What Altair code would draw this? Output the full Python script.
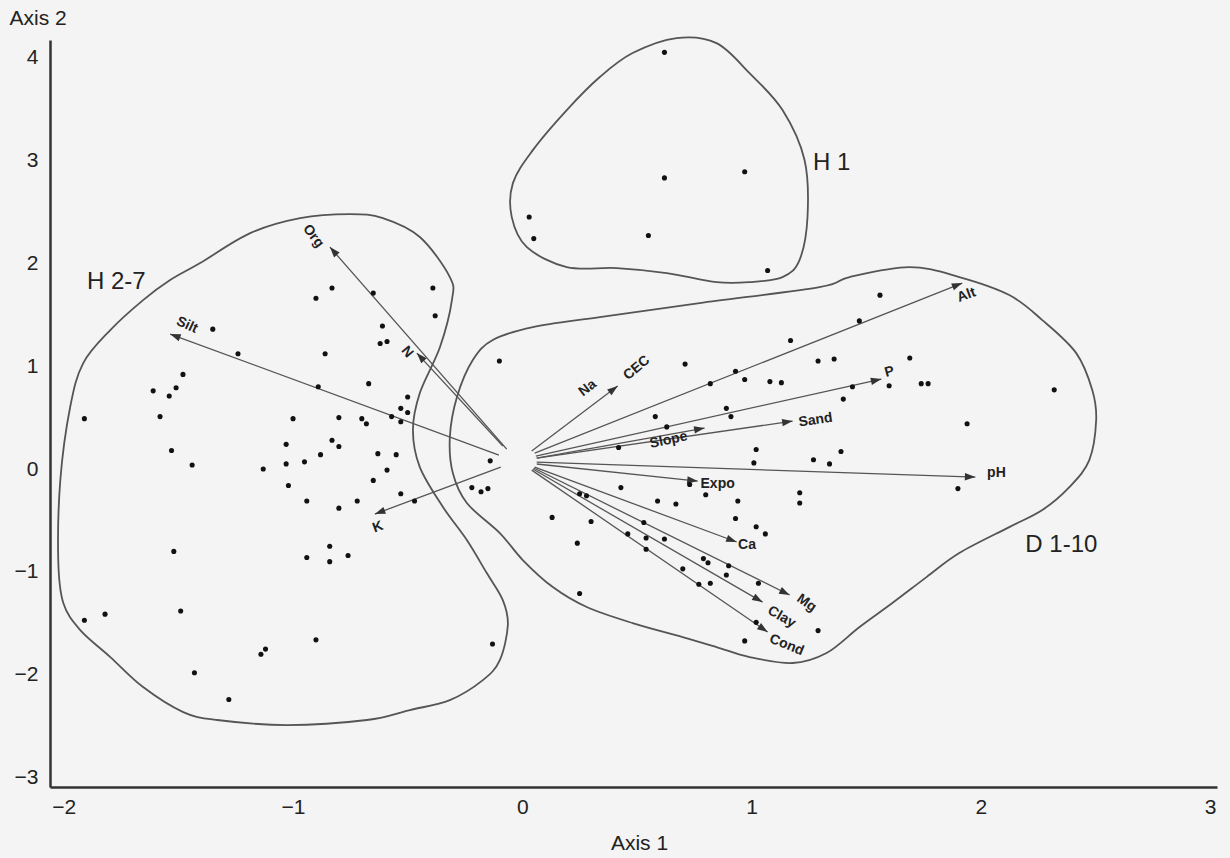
import altair as alt
import pandas as pd
import numpy as np

# ---------------- data ----------------
h27_pts = [
    (-0.83, 1.76), (-0.90, 1.66), (-0.65, 1.71), (-0.39, 1.76), (-0.38, 1.49), (-0.61, 1.39), (-0.62, 1.22),
    (-0.59, 1.24), (-1.35, 1.36), (-1.24, 1.12), (-0.86, 1.12), (-1.48, 0.92), (-1.61, 0.76), (-1.51, 0.79),
    (-1.54, 0.71), (-0.89, 0.80), (-0.67, 0.83), (-0.50, 0.70), (-0.53, 0.59), (-0.50, 0.55), (-0.57, 0.51),
    (-0.53, 0.46), (-1.91, 0.49), (-1.58, 0.51), (-1.00, 0.49), (-0.80, 0.50), (-0.70, 0.49), (-0.68, 0.44),
    (-1.03, 0.24), (-0.83, 0.28), (-0.80, 0.22), (-0.88, 0.14), (-0.63, 0.15), (-0.55, 0.14), (-1.53, 0.18),
    (-1.44, 0.04), (-1.13, 0.00), (-1.03, 0.05), (-0.95, 0.07), (-0.59, -0.01), (-0.65, -0.11), (-1.02, -0.16),
    (-0.94, -0.31), (-0.80, -0.38), (-0.72, -0.31), (-0.53, -0.24), (-0.47, -0.31), (-0.14, 0.08),
    (-0.22, -0.18), (-0.18, -0.22), (-0.15, -0.19), (-1.52, -0.80), (-0.84, -0.75), (-0.94, -0.86),
    (-0.84, -0.90), (-0.76, -0.84), (-1.91, -1.47), (-1.82, -1.41), (-1.49, -1.38), (-0.90, -1.66),
    (-1.14, -1.80), (-1.12, -1.75), (-1.43, -1.98), (-1.28, -2.24), (-0.13, -1.70),
]
h1_pts = [(0.62, 4.05), (0.97, 2.89), (0.62, 2.83), (0.03, 2.45), (0.05, 2.24), (0.55, 2.27), (1.07, 1.93)]
d_pts = [
    (-0.10, 1.05), (1.56, 1.69), (1.47, 1.44), (1.17, 1.25), (0.71, 1.02), (1.29, 1.05), (1.36, 1.07),
    (1.69, 1.08), (0.93, 0.95), (0.82, 0.83), (0.97, 0.87), (1.08, 0.85), (1.13, 0.84), (1.44, 0.80),
    (1.60, 0.81), (1.74, 0.83), (1.77, 0.83), (1.40, 0.68), (2.32, 0.77), (0.89, 0.59), (0.91, 0.51),
    (0.58, 0.51), (0.63, 0.41), (1.94, 0.44), (0.42, 0.21), (1.02, 0.19), (1.01, 0.06), (1.39, 0.17),
    (1.27, 0.09), (1.34, 0.05), (1.90, -0.19), (0.73, -0.15), (0.43, -0.18), (0.80, -0.25), (0.94, -0.31),
    (0.59, -0.31), (0.67, -0.34), (1.21, -0.23), (1.21, -0.33), (0.13, -0.47), (0.30, -0.51), (0.93, -0.48),
    (1.02, -0.56), (1.06, -0.63), (0.25, -0.24), (0.28, -0.26), (0.53, -0.52), (0.24, -0.72), (0.46, -0.63),
    (0.54, -0.67), (0.62, -0.68), (0.54, -0.78), (0.79, -0.87), (0.81, -0.91), (0.90, -0.94), (0.70, -0.97),
    (0.89, -1.03), (0.77, -1.12), (0.82, -1.11), (1.03, -1.11), (0.25, -1.21), (1.02, -1.49), (0.97, -1.67),
    (1.29, -1.57),
]

# environmental vectors: start and tip
arr_names = ["Na/CEC", "Alt", "P", "Sand", "Slope", "pH", "Expo", "Ca", "Mg", "Clay", "Cond", "Org", "N", "Silt", "K"]
arr_x0 = [0.041, 0.054, 0.059, 0.063, 0.063, 0.063, 0.063, 0.054, 0.050, 0.046, 0.041, -0.068, -0.085, -0.102, -0.094]
arr_y0 = [0.175, 0.155, 0.126, 0.107, 0.107, 0.068, 0.049, 0.019, 0.010, 0.000, -0.010, 0.194, 0.224, 0.136, 0.019]
arr_x1 = [0.416, 1.919, 1.566, 1.179, 0.795, 1.976, 0.765, 0.935, 1.166, 1.048, 1.070, -0.839, -0.460, -1.536, -0.643]
arr_y1 = [0.807, 1.808, 0.875, 0.466, 0.398, -0.078, -0.117, -0.709, -1.224, -1.293, -1.584, 2.157, 1.127, 1.312, -0.437]

# vector labels
lab_text = ["Na", "CEC", "Alt", "P", "Sand", "Slope", "pH", "Expo", "Ca", "Mg", "Clay", "Cond", "Org", "N", "Silt", "K"]
lab_x = [0.285, 0.499, 1.937, 1.601, 1.279, 0.638, 2.068, 0.852, 0.980, 1.240, 1.131, 1.153, -0.912, -0.503, -1.462, -0.630]
lab_y = [0.787, 0.982, 1.691, 0.943, 0.476, 0.282, -0.039, -0.146, -0.739, -1.302, -1.438, -1.710, 2.264, 1.137, 1.399, -0.564]
lab_angle = [322, 320, 340, 345, 352, 348, 0, 0, 0, 35, 30, 22, 52, 50, 25, 340]

# group outlines (closed smooth curves)
h27_outline = [
    (-0.752, 2.478), (-0.608, 2.439), (-0.447, 2.255), (-0.316, 1.866), (-0.307, 1.642), (-0.359, 1.186),
    (-0.447, 0.739), (-0.477, 0.379), (-0.447, 0.019), (-0.346, -0.369), (-0.242, -0.690), (-0.155, -1.011),
    (-0.085, -1.273), (-0.063, -1.516), (-0.098, -1.856), (-0.172, -2.051), (-0.316, -2.245), (-0.490, -2.342),
    (-0.678, -2.439), (-1.026, -2.488), (-1.331, -2.439), (-1.479, -2.362), (-1.654, -2.119), (-1.797, -1.827),
    (-1.928, -1.565), (-2.002, -1.302), (-2.024, -0.884), (-2.015, -0.107), (-1.972, 0.603), (-1.915, 1.030),
    (-1.797, 1.351), (-1.654, 1.642), (-1.536, 1.837), (-1.405, 2.002), (-1.187, 2.293), (-0.969, 2.439),
]
h1_outline = [
    (0.673, 4.189), (0.847, 4.140), (0.991, 3.848), (1.135, 3.489), (1.231, 3.003), (1.244, 2.449),
    (1.209, 2.031), (1.135, 1.866), (0.991, 1.817), (0.847, 1.817), (0.630, 1.905), (0.412, 1.953),
    (0.194, 1.963), (0.020, 2.157), (-0.046, 2.449), (-0.041, 2.779), (0.046, 3.100), (0.194, 3.489),
    (0.338, 3.810), (0.481, 4.043),
]
d_outline = [
    (0.046, 1.380), (0.338, 1.477), (0.773, 1.613), (1.296, 1.769), (1.427, 1.866), (1.688, 1.963),
    (1.906, 1.866), (2.124, 1.691), (2.268, 1.448), (2.416, 1.127), (2.486, 0.768), (2.503, 0.476),
    (2.473, 0.087), (2.386, -0.175), (2.268, -0.398), (2.124, -0.564), (1.906, -0.816), (1.763, -1.050),
    (1.614, -1.302), (1.471, -1.535), (1.327, -1.788), (1.179, -1.885), (0.991, -1.827), (0.847, -1.730),
    (0.699, -1.633), (0.481, -1.497), (0.281, -1.341), (0.133, -1.147), (0.002, -0.884), (-0.098, -0.622),
    (-0.242, -0.330), (-0.303, -0.039), (-0.316, 0.311), (-0.285, 0.700), (-0.216, 1.059), (-0.129, 1.254),
]

group_names = ["H 2-7", "H 1", "D 1-10"]
group_label_x = [-1.771, 1.349, 2.351]
group_label_y = [1.817, 2.974, -0.739]

x_ticks = [-2, -1, 0, 1, 2, 3]
y_ticks = [-3, -2, -1, 0, 1, 2, 3, 4]

# ---------------- layout ----------------
W, H = 1167, 747
XDOM = [-2.06, 3.03]
YDOM = [-3.09, 4.17]
FONT = "Liberation Sans"
INK = "#222222"
LINE = "#555555"

pts = pd.DataFrame(h27_pts + h1_pts + d_pts, columns=["x", "y"])

arr = pd.DataFrame(dict(name=arr_names, x0=arr_x0, y0=arr_y0, x1=arr_x1, y1=arr_y1))
kx = W / (XDOM[1] - XDOM[0])
ky = H / (YDOM[1] - YDOM[0])
arr["ang"] = np.degrees(np.arctan2(-(arr.y1 - arr.y0) * ky, (arr.x1 - arr.x0) * kx)) % 360

labs = pd.DataFrame(dict(text=lab_text, x=lab_x, y=lab_y, angle=lab_angle))

rows = []
for g, outline in zip(group_names, [h27_outline, h1_outline, d_outline]):
    for i, (ox, oy) in enumerate(outline):
        rows.append(dict(group=g, idx=i, x=ox, y=oy))
outl = pd.DataFrame(rows)

glabs = pd.DataFrame(dict(text=group_names, x=group_label_x, y=group_label_y))

xscale = alt.Scale(domain=XDOM, nice=False, zero=False)
yscale = alt.Scale(domain=YDOM, nice=False, zero=False)

common_axis = dict(
    grid=False, ticks=False, tickSize=0, domainColor="#333333", domainWidth=2.5,
    labelFont=FONT, labelFontSize=21, labelColor=INK, labelFlush=False, labelOverlap=False,
    titleFont=FONT, titleFontSize=21, titleFontWeight="normal", titleColor=INK,
)
xaxis = alt.Axis(title="Axis 1", values=x_ticks, labelPadding=9, titleX=589, titleY=56,
                 titleAlign="center", titleBaseline="middle", **common_axis)
yaxis = alt.Axis(title="Axis 2", values=y_ticks, labelPadding=12, titleAngle=0, titleX=-41, titleY=-22,
                 titleAlign="left", titleBaseline="middle", **common_axis)


def X(f):
    return alt.X(f, type="quantitative", scale=xscale, axis=xaxis)


def Y(f):
    return alt.Y(f, type="quantitative", scale=yscale, axis=yaxis)


outlines = alt.Chart(outl).mark_line(
    interpolate="cardinal-closed", color=LINE, strokeWidth=1.8
).encode(x=X("x"), y=Y("y"), detail="group:N", order="idx:Q")

shafts = alt.Chart(arr).mark_rule(color=LINE, strokeWidth=1.3).encode(
    x=X("x0"), y=Y("y0"), x2="x1", y2="y1"
)

heads = alt.Chart(arr).mark_point(
    shape="M0,0L-2,-0.7L-2,0.7Z", filled=True, color="#333333", opacity=1, size=110, strokeWidth=0
).encode(x=X("x1"), y=Y("y1"), angle=alt.Angle("ang", type="quantitative", scale=None))

dots = alt.Chart(pts).mark_circle(color="#111111", opacity=1, size=26).encode(x=X("x"), y=Y("y"))

vlabels = alt.Chart(labs).mark_text(
    font=FONT, fontSize=14, fontWeight="bold", color=INK, align="center", baseline="middle"
).encode(x=X("x"), y=Y("y"), text="text:N", angle=alt.Angle("angle", type="quantitative", scale=None))

glabels = alt.Chart(glabs).mark_text(
    font=FONT, fontSize=24, color=INK, align="center", baseline="middle"
).encode(x=X("x"), y=Y("y"), text="text:N")

chart = alt.layer(outlines, shafts, heads, dots, vlabels, glabels).properties(
    width=W, height=H,
    autosize=alt.AutoSizeParams(type="none"),
    padding={"left": 50, "top": 40, "right": 13, "bottom": 71},
    background="#f4f4f4",
).configure_view(stroke=None)

chart.save("out.html", embed_options={"renderer": "svg", "actions": False})
